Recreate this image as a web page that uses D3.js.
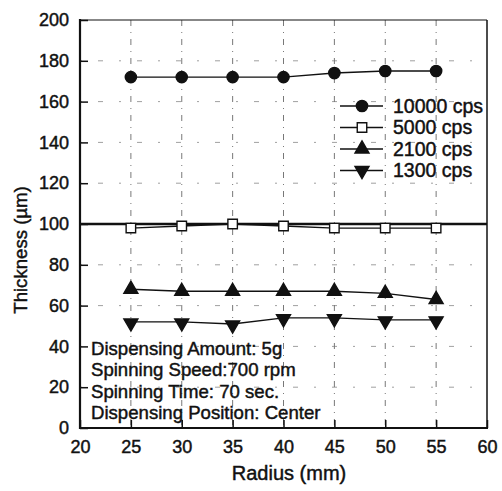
<!DOCTYPE html>
<html><head><meta charset="utf-8">
<script src="https://cdn.jsdelivr.net/npm/d3@7"></script>
<style>body{margin:0;background:#fff}text{font-family:"Liberation Sans",Arial,sans-serif;fill:#111;stroke:#111;stroke-width:0.45px}</style>
</head><body><svg id="c" width="502" height="491"></svg>
<script>
const radius = [25, 30, 35, 40, 45, 50, 55];
const cps10000 = [172, 172, 172, 172, 174, 175, 175];
const cps5000 = [98, 99, 100, 99, 98, 98, 98];
const cps2100 = [68, 67, 67, 67, 67, 66, 63];
const cps1300 = [52, 52, 51, 54, 54, 53, 53];
const seriesNames = ["10000 cps", "5000 cps", "2100 cps", "1300 cps"];
const xTicks = [20, 25, 30, 35, 40, 45, 50, 55, 60];
const yTicks = [0, 20, 40, 60, 80, 100, 120, 140, 160, 180, 200];
const refLine = 100;
const notes = ["Dispensing Amount: 5g", "Spinning Speed:700 rpm", "Spinning Time: 70 sec.", "Dispensing Position: Center"];

const svg = d3.select("#c");
const L = 80, R = 487, T = 20, B = 428;
const x = d3.scaleLinear().domain([20, 60]).range([L, R]);
const y = d3.scaleLinear().domain([0, 200]).range([B, T]);

// grid (dash-dot)
const g = svg.append("g");
g.selectAll("line.vg").data(xTicks.slice(1, -1)).join("line")
  .attr("x1", d => x(d)).attr("x2", d => x(d)).attr("y1", T).attr("y2", B)
  .attr("stroke", "#555").attr("stroke-width", 0.8).attr("stroke-dasharray", "6,6,1,6");
g.selectAll("line.hg").data(yTicks.slice(1, -1).filter(d => d !== refLine)).join("line")
  .attr("x1", L).attr("x2", R).attr("y1", d => y(d)).attr("y2", d => y(d))
  .attr("stroke", "#777").attr("stroke-width", 0.7).attr("stroke-dasharray", "2,16,5,16");

// axes
const fs = "18px";
const yAxis = d3.axisLeft(y).tickValues(yTicks).tickSize(-8).tickPadding(11);
const ya = svg.append("g").attr("transform", `translate(${L},0)`).call(yAxis);
const xAxis = d3.axisBottom(x).tickValues(xTicks).tickSize(-8).tickPadding(12);
const xa = svg.append("g").attr("transform", `translate(0,${B})`).call(xAxis);
[ya, xa].forEach(a => {
  a.select(".domain").remove();
  a.selectAll(".tick line").attr("stroke", "#111").attr("stroke-width", 1.5);
  a.selectAll(".tick text").style("font-size", fs).style("font-family", '"Liberation Sans",Arial,sans-serif')
    .attr("fill", "#111").attr("stroke", "#111").attr("stroke-width", 0.6);
});

// frame
svg.append("line").attr("x1", L).attr("x2", L).attr("y1", T - 1).attr("y2", B + 1).attr("stroke", "#111").attr("stroke-width", 2.2);
svg.append("line").attr("x1", L - 1).attr("x2", R + 1).attr("y1", B).attr("y2", B).attr("stroke", "#111").attr("stroke-width", 2.2);
svg.append("line").attr("x1", R).attr("x2", R).attr("y1", T).attr("y2", B).attr("stroke", "#111").attr("stroke-width", 1.5);
svg.append("line").attr("x1", L).attr("x2", R).attr("y1", T).attr("y2", T).attr("stroke", "#111").attr("stroke-width", 1.2);

// reference line
svg.append("line").attr("x1", L).attr("x2", R).attr("y1", y(refLine)).attr("y2", y(refLine))
  .attr("stroke", "#111").attr("stroke-width", 2.6);

const sym = [
  d3.symbol().type(d3.symbolCircle).size(100),
  d3.symbol().type(d3.symbolSquare).size(90),
  d3.symbol().type(d3.symbolTriangle).size(85),
  d3.symbol().type(d3.symbolTriangle).size(85)
];
const fills = ["#111", "#fff", "#111", "#111"];
const rot = [0, 0, 0, 180];
const data = [cps10000, cps5000, cps2100, cps1300];
const line = d3.line().x((d, i) => x(radius[i])).y(d => y(d));

data.forEach((s, k) => {
  svg.append("path").attr("d", line(s)).attr("fill", "none").attr("stroke", "#111").attr("stroke-width", 1.4);
  svg.selectAll(null).data(s).join("path")
    .attr("d", sym[k]())
    .attr("transform", (d, i) => `translate(${x(radius[i])},${y(d) + (k === 3 ? 1 : 0)}) rotate(${rot[k]})`)
    .attr("fill", fills[k]).attr("stroke", "#111").attr("stroke-width", 1.4);
});

// legend
const lg = svg.append("g");
seriesNames.forEach((n, k) => {
  const yy = 106 + k * 21.5;
  lg.append("line").attr("x1", 340).attr("x2", 383).attr("y1", yy).attr("y2", yy).attr("stroke", "#111").attr("stroke-width", 1.4);
  lg.append("path").attr("d", sym[k]()).attr("transform", `translate(362,${yy}) rotate(${rot[k]})`)
    .attr("fill", fills[k]).attr("stroke", "#111").attr("stroke-width", 1.4);
  lg.append("text").attr("x", 393).attr("y", yy).attr("dy", "0.35em").style("font-size", "19.5px").text(n);
});

// notes
notes.forEach((t, i) => {
  svg.append("text").attr("x", 91).attr("y", 348 + i * 21.6).attr("dy", "0.35em").style("font-size", "18.6px").text(t);
});

// axis titles
svg.append("text").attr("x", 289).attr("y", 473).attr("dy", "0.35em").attr("text-anchor", "middle").style("font-size", "20px").text("Radius (mm)");
svg.append("text").attr("transform", "translate(20,250) rotate(-90)").attr("dy", "0.35em").attr("text-anchor", "middle").style("font-size", "18.6px").text("Thickness (µm)");
</script></body></html>
